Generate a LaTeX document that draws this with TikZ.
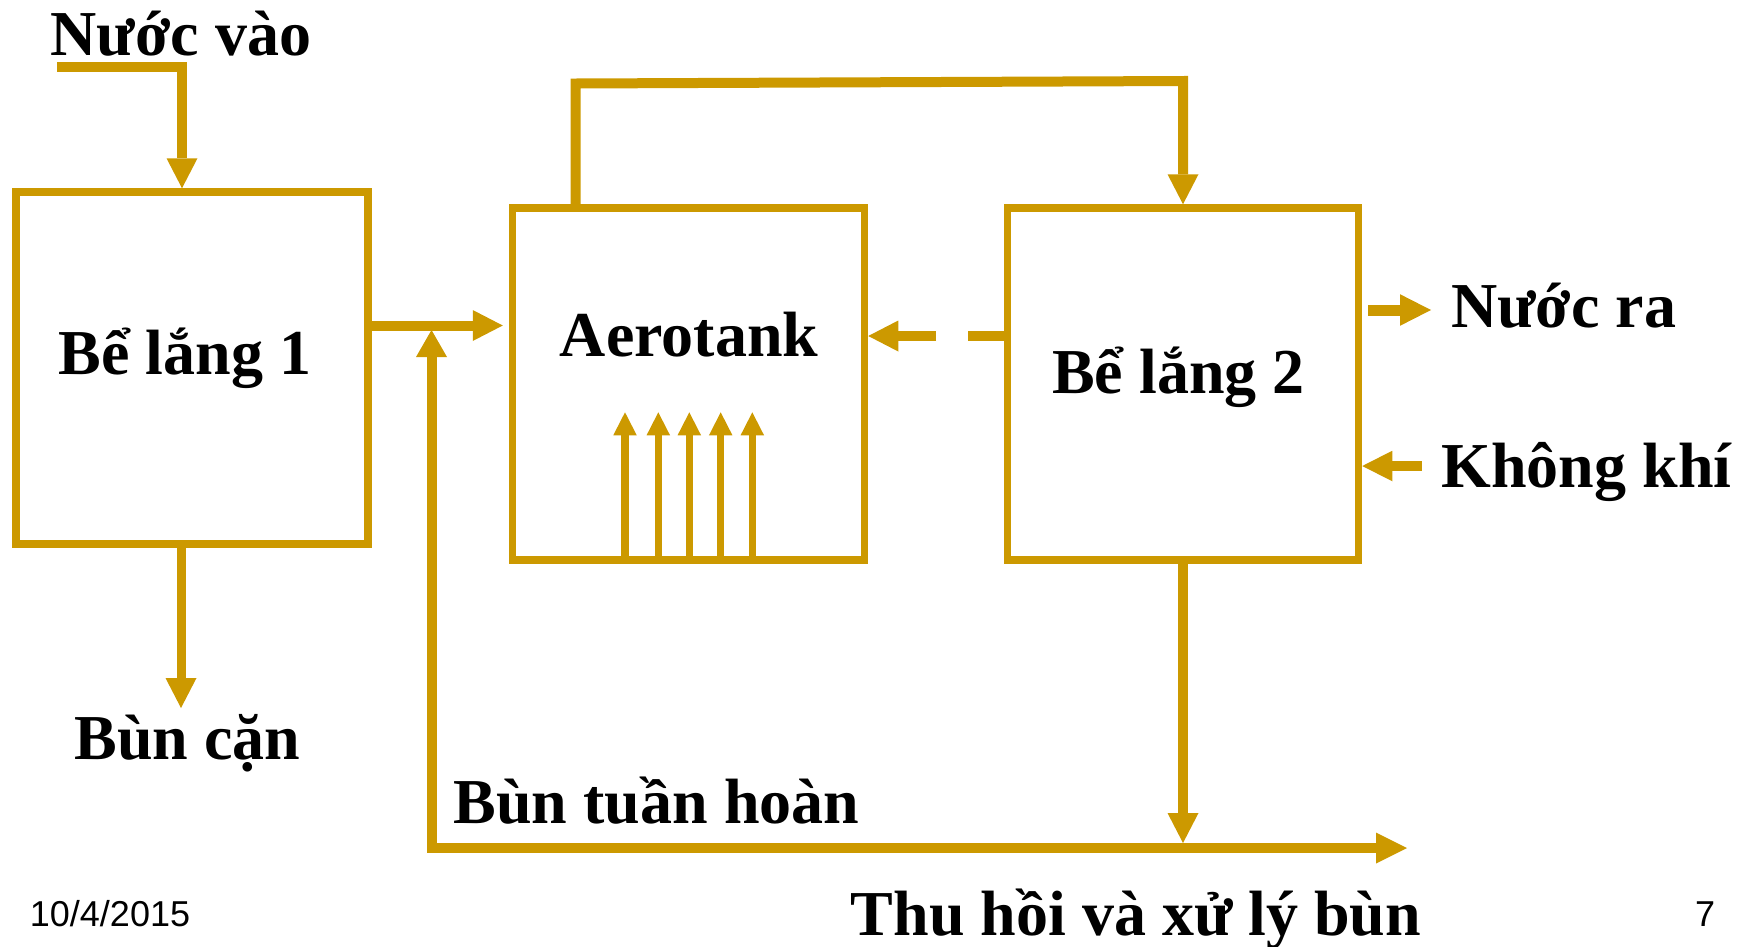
\documentclass[tikz,border=0pt]{standalone}
\usepackage{fontspec}
\setmainfont{Liberation Serif}
\newfontfamily\footfont{Liberation Sans}
\usetikzlibrary{arrows.meta}
\definecolor{gold}{RGB}{204,153,0}
\tikzset{
  box/.style={draw=gold, line width=7.5pt, inner sep=0pt, outer sep=3.75pt},
  conn/.style={draw=gold, line width=10pt, line join=miter},
  tipA/.style={-{Triangle[length=30pt,width=31pt,line width=0pt]}},
  air/.style={draw=gold, line width=7.5pt, -{Triangle[length=23pt,width=23.5pt,line width=0pt]}},
  lbl/.style={font=\fontsize{64}{72}\selectfont\bfseries, anchor=base, inner sep=0pt, text=black},
  foot/.style={font=\fontsize{36}{40}\selectfont\footfont, anchor=base, inner sep=0pt, text=black},
}
\begin{document}
\begin{tikzpicture}[x=1pt,y=-1pt]
\useasboundingbox (0,0) rectangle (1748,946);

% boxes
\node[box, minimum width=352pt, minimum height=352pt] (b1) at (192,368) {};
\node[box, minimum width=352pt, minimum height=352pt] (ae) at (688.5,384) {};
\node[box, minimum width=351pt, minimum height=352pt] (b2) at (1183,384) {};

% labels
\node[lbl] (tin) at (181,55.5) {Nước vào};
\node[lbl] (tb1) at (185,374.4) {Bể lắng 1};
\node[lbl] (tae) at (689,356) {Aerotank};
\node[lbl] (tb2) at (1178.5,393) {Bể lắng 2};
\node[lbl] (tout) at (1563.6,327) {Nước ra};
\node[lbl] (tair) at (1586.5,487.6) {Không khí};
\node[lbl] (tbc) at (187.5,759) {Bùn cặn};
\node[lbl] (tbth) at (656.5,823) {Bùn tuần hoàn};
\node[lbl] (tthu) at (1136,935) {Thu hồi và xử lý bùn};
\node[foot] (tdate) at (110,926) {10/4/2015};
\node[foot] (tpage) at (1705,926) {7};

% coordinates
\coordinate (inS) at (57,66.7);
\coordinate (inC) at (182,66.7);
\coordinate (j1) at (431.5,330);
\coordinate (h1) at (431.5,325.5);
\coordinate (aeIn) at ([xshift=-6pt]ae.west);
\coordinate (rc) at (431.5,848);
\coordinate (sEnd) at (1407,848);
\coordinate (b2drop) at (1183,843);
\coordinate (t1) at (575.5,83.5);
\coordinate (t2) at (1183,81);
\coordinate (d1) at (967.7,336);
\coordinate (d2) at (936,336);
\coordinate (o1) at (1368,310);
\coordinate (o2) at (1431,310);
\coordinate (k1) at (1421.6,466);
\coordinate (bc) at (181,708);

% input water
\draw[conn,tipA] (inS) -- (inC) -- (inC |- b1.north);
% settler 1 -> aerotank
\draw[conn,tipA] (b1.east |- h1) -- (aeIn |- h1);
% recirculated sludge & sludge out
\draw[conn,{Triangle[length=27pt,width=31pt,line width=0pt]}-{Triangle[length=31pt,width=31pt,line width=0pt]}] (j1) -- (rc) -- (sEnd);
% settler 2 bottom
\draw[conn,tipA] (b2.south) -- (b2drop);
% top loop aerotank -> settler 2
\draw[conn,tipA] (ae.north -| t1) -- (t1) -- (t2) -- (b2.north -| t2);
% dashed return
\draw[conn] (b2.west |- d1) -- (d1);
\draw[conn,tipA] (d2) -- (ae.east |- d2);
% water out
\draw[conn,line width=11pt,-{Triangle[length=31pt,width=31.6pt,line width=0pt]}] (o1) -- (o2);
% air in
\draw[conn,-{Triangle[length=30pt,width=30.5pt,line width=0pt]}] (k1) -- (b2.east |- k1);
% settler 1 bottom
\draw[conn,line width=9pt,tipA] (bc |- b1.south) -- (bc);
% aeration
\foreach \xx in {625,658.3,689.3,720.7,752.3}{
  \draw[air] (ae.south -| \xx,0) ++(0,-4) -- (\xx,412.3);
}
\end{tikzpicture}
\end{document}
